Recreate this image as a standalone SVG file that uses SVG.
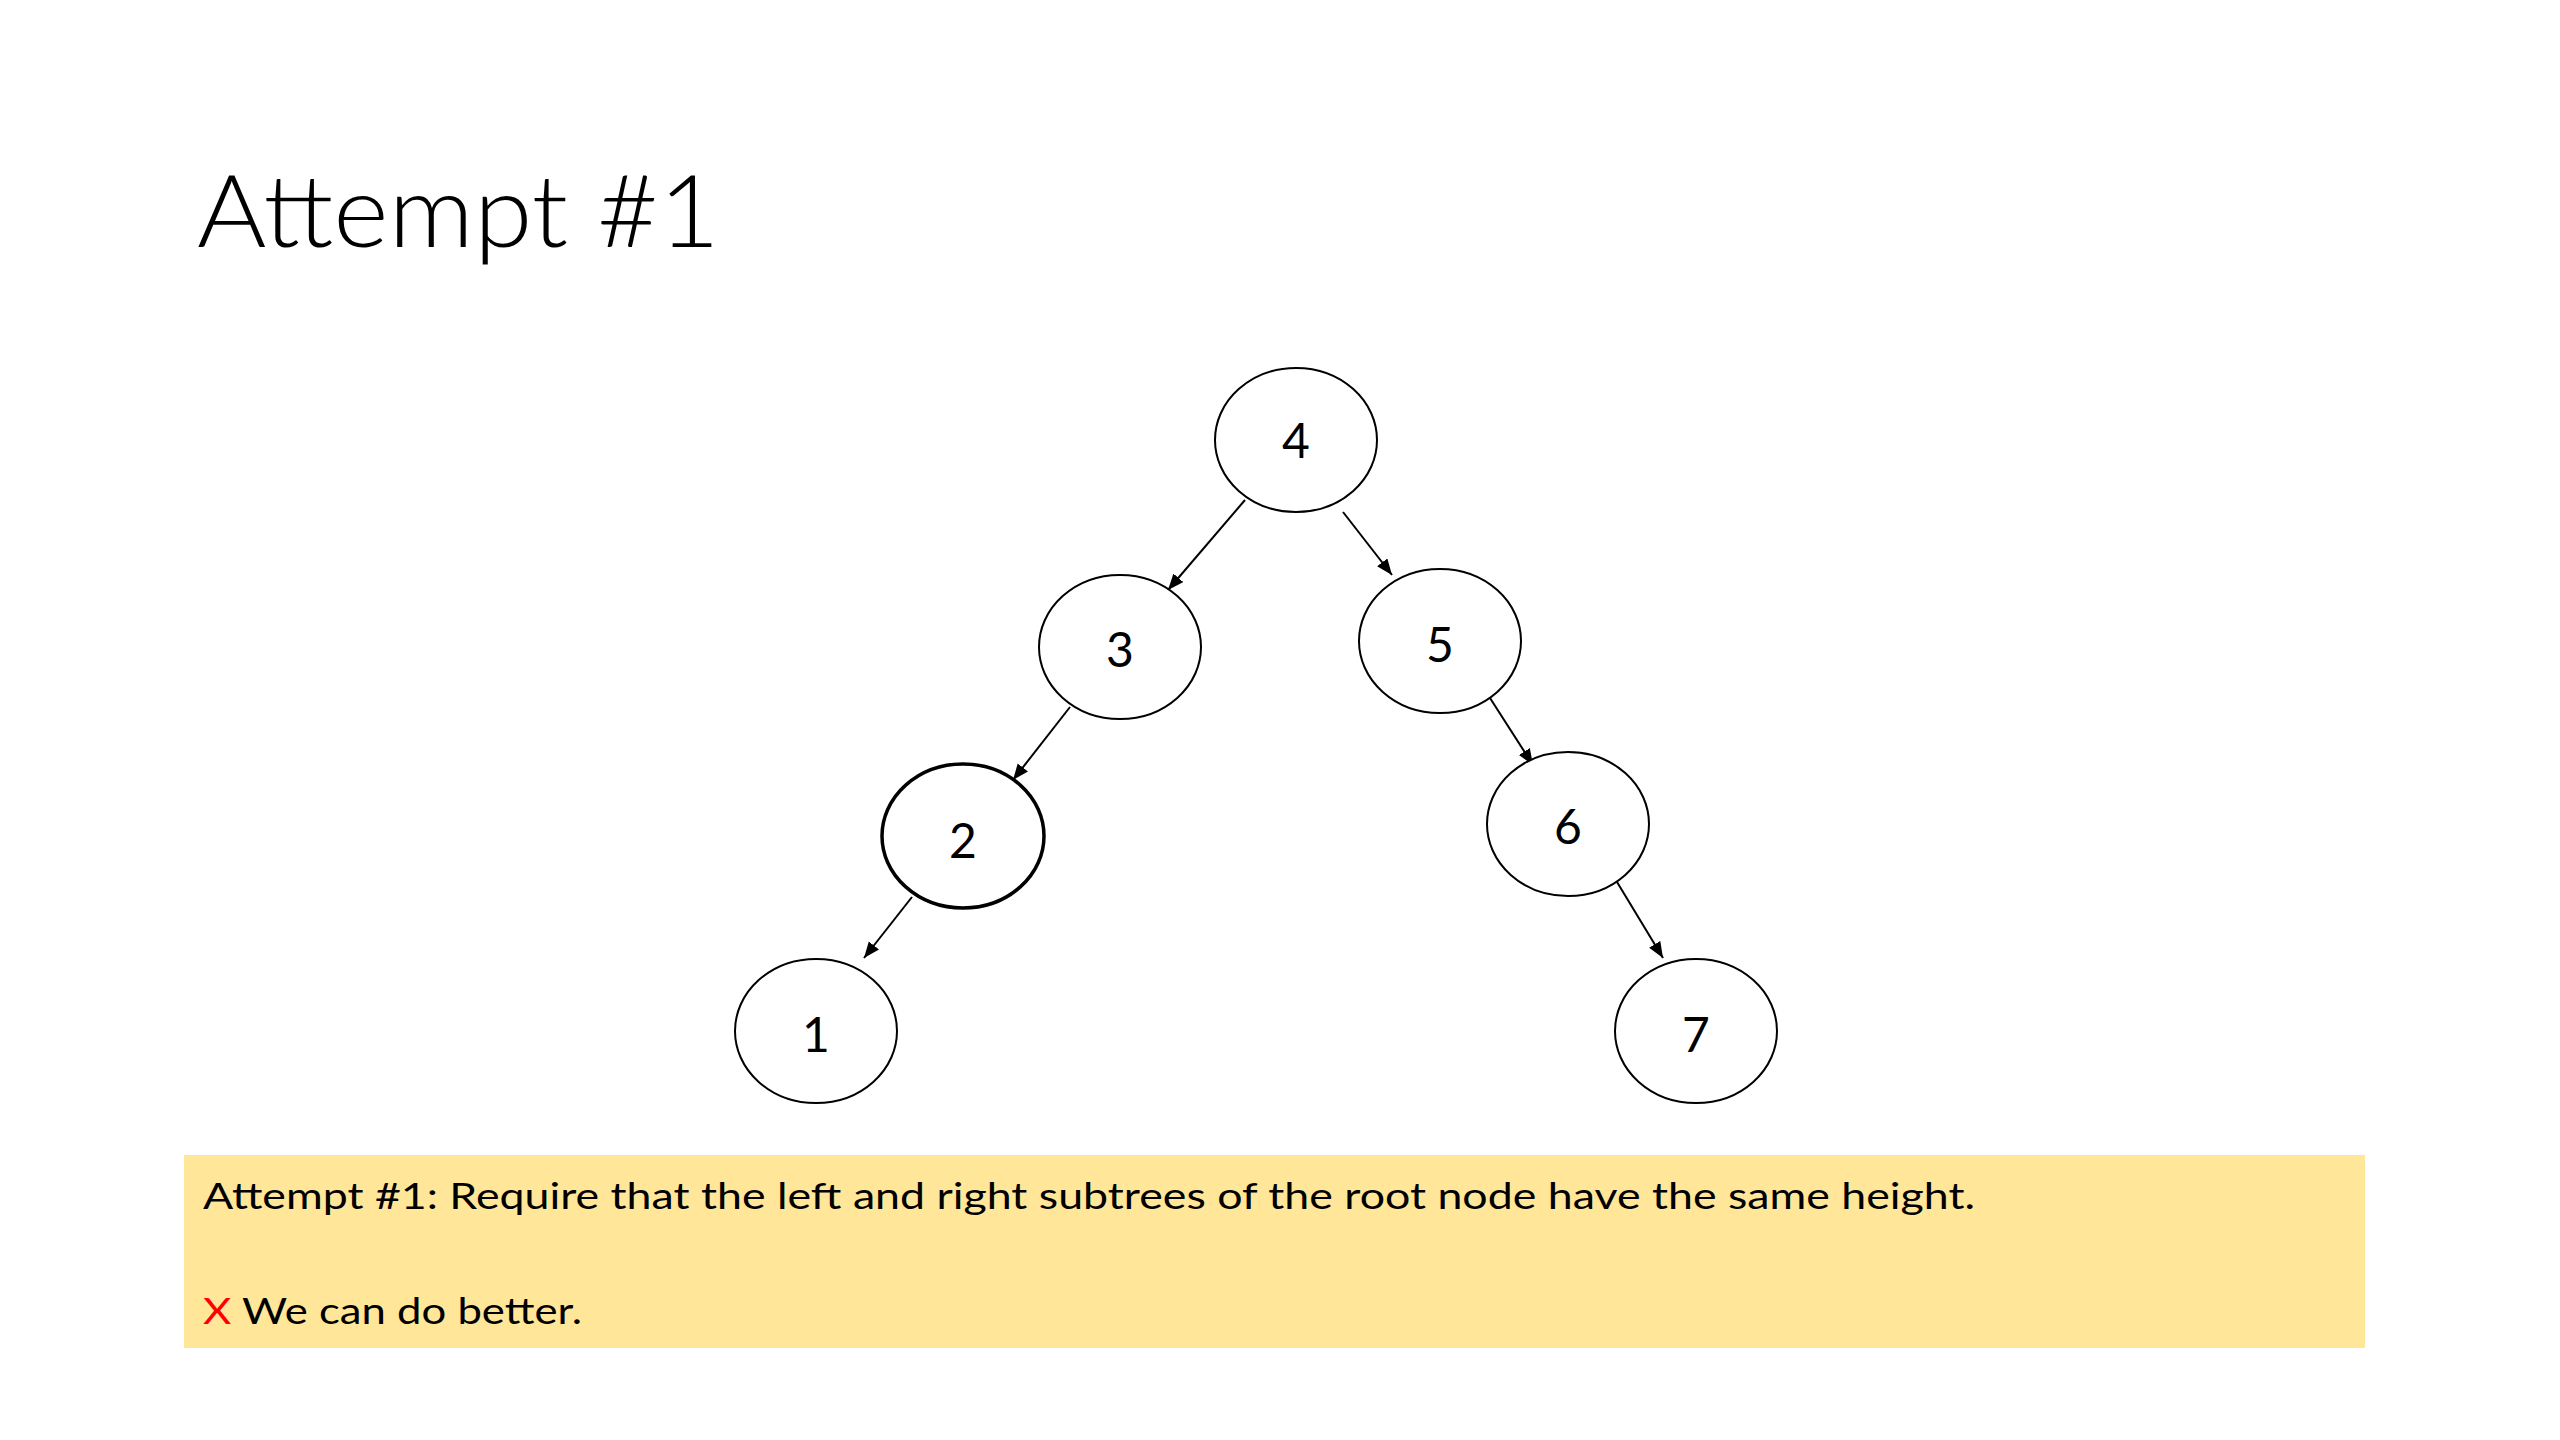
<svg xmlns="http://www.w3.org/2000/svg" width="2560" height="1440" viewBox="0 0 2560 1440">
<style>
.node ellipse{fill:#fff;stroke:#000;stroke-width:2}
.node.bold ellipse{stroke-width:3.5}
.node text{font-family:Lato,"Open Sans","Liberation Sans",sans-serif;font-size:48px;fill:#000;text-anchor:middle}
.edge{stroke:#000;stroke-width:2;fill:none;marker-end:url(#arrow)}
.body{font-family:Lato,"Open Sans","Liberation Sans",sans-serif;font-size:37px;fill:#000}
</style>
<defs>
<marker id="arrow" markerUnits="userSpaceOnUse" markerWidth="18" markerHeight="14" refX="16" refY="6.5" orient="auto">
<path d="M0,0 L16,6.5 L0,13 z" fill="#000"/>
</marker>
</defs>
<rect width="2560" height="1440" fill="#fff"/>
<text id="title" x="197" y="247" font-family="Lato,'Open Sans','Liberation Sans',sans-serif" font-weight="300" font-size="101" textLength="523" lengthAdjust="spacingAndGlyphs" fill="#000">Attempt #1</text>
<g id="connectors">
<line class="edge" x1="1245" y1="500" x2="1168" y2="590"/>
<line class="edge" x1="1343" y1="512" x2="1392" y2="575"/>
<line class="edge" x1="1070" y1="707" x2="1013" y2="780"/>
<line class="edge" x1="912" y1="897" x2="864" y2="958"/>
<line class="edge" x1="1490" y1="698" x2="1533" y2="765"/>
<line class="edge" x1="1617" y1="882" x2="1663" y2="958"/>
</g>
<g id="node4" class="node"><ellipse cx="1296" cy="440" rx="81" ry="72"/><text x="1296" y="458">4</text></g>
<g id="node3" class="node"><ellipse cx="1120" cy="647" rx="81" ry="72"/><text x="1120" y="667">3</text></g>
<g id="node5" class="node"><ellipse cx="1440" cy="641" rx="81" ry="72"/><text x="1440" y="662">5</text></g>
<g id="node2" class="node bold"><ellipse cx="963" cy="836" rx="81" ry="72"/><text x="963" y="858">2</text></g>
<g id="node6" class="node"><ellipse cx="1568" cy="824" rx="81" ry="72"/><text x="1568" y="844">6</text></g>
<g id="node1" class="node"><ellipse cx="816" cy="1031" rx="81" ry="72"/><text x="816" y="1052">1</text></g>
<g id="node7" class="node"><ellipse cx="1696" cy="1031" rx="81" ry="72"/><text x="1696" y="1052">7</text></g>
<g id="note">
<rect x="184" y="1155" width="2181" height="193" fill="#FFE699"/>
<text class="body" x="203" y="1209" textLength="1772" lengthAdjust="spacingAndGlyphs">Attempt #1: Require that the left and right subtrees of the root node have the same height.</text>
<text class="body" x="203" y="1324" textLength="379" lengthAdjust="spacingAndGlyphs"><tspan fill="#FF0000">X</tspan> We can do better.</text>
</g>
</svg>
